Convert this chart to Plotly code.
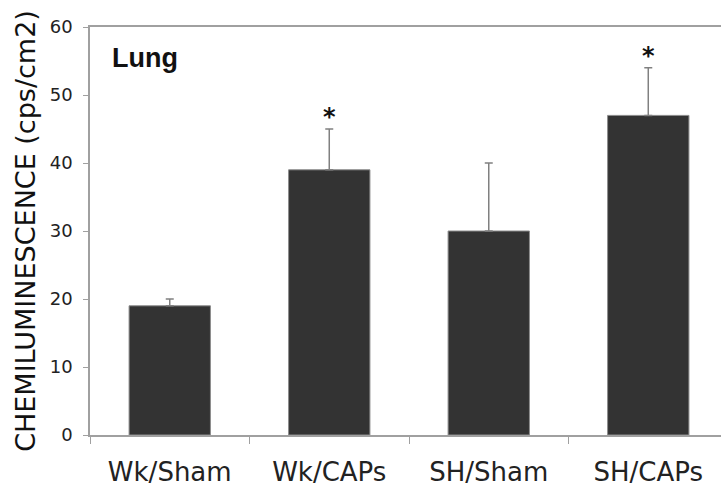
import plotly.graph_objects as go

categories = ["Wk/Sham", "Wk/CAPs", "SH/Sham", "SH/CAPs"]
means = [19, 39, 30, 47]
errors = [1, 6, 10, 7]
significant = [False, True, False, True]
y_ticks = [0, 10, 20, 30, 40, 50, 60]

fig = go.Figure()
fig.add_trace(go.Bar(
    x=categories,
    y=means,
    width=0.51,
    marker=dict(color="#333333", line=dict(color="#8c8c8c", width=1)),
    error_y=dict(type="data", symmetric=False, array=errors,
                 arrayminus=[0] * len(errors),
                 color="#808080", thickness=1.5, width=4),
    showlegend=False,
))

for cat, m, e, s in zip(categories, means, errors, significant):
    if s:
        fig.add_annotation(x=cat, y=m + e, text="<b>*</b>", showarrow=False,
                           xanchor="center", yanchor="bottom", yshift=-4,
                           font=dict(family="DejaVu Sans", size=24, color="#111111"))

fig.add_annotation(xref="paper", yref="paper", x=(110 - 90) / 631, y=(435 - 58) / 408,
                   text="<b>Lung</b>", showarrow=False, xanchor="left", yanchor="middle",
                   font=dict(family="Liberation Sans", size=27, color="#111111"))

fig.update_layout(
    width=721, height=487,
    margin=dict(l=90, r=0, t=27, b=52),
    paper_bgcolor="white", plot_bgcolor="white",
    font=dict(family="DejaVu Sans", color="#222222"),
    xaxis=dict(
        range=[-0.5, 3.456], automargin=False,
        showline=True, linecolor="#a0a0a0", linewidth=1.5, mirror=True,
        ticks="outside", tickson="boundaries", ticklen=7, tickcolor="#a0a0a0",
        tickfont=dict(size=26, color="#222222"), ticklabelstandoff=13,
        showgrid=False, zeroline=False,
    ),
    yaxis=dict(
        range=[0, 60], tickvals=y_ticks,
        showline=True, linecolor="#a0a0a0", linewidth=1.5,
        ticks="outside", ticklen=5, tickcolor="#a0a0a0",
        tickfont=dict(size=18, color="#222222"), ticklabelstandoff=7,
        showgrid=False, zeroline=False,
        title=dict(text="CHEMILUMINESCENCE (cps/cm2)", standoff=6,
                   font=dict(size=27, color="#111111")),
    ),
)

fig.write_html("out.html", config={"displayModeBar": False})
with open("out.html", "r", encoding="utf-8") as f:
    html = f.read()
html = html.replace("<head>", "<head><style>html,body{margin:0;padding:0;overflow:hidden;}</style>", 1)
with open("out.html", "w", encoding="utf-8") as f:
    f.write(html)
